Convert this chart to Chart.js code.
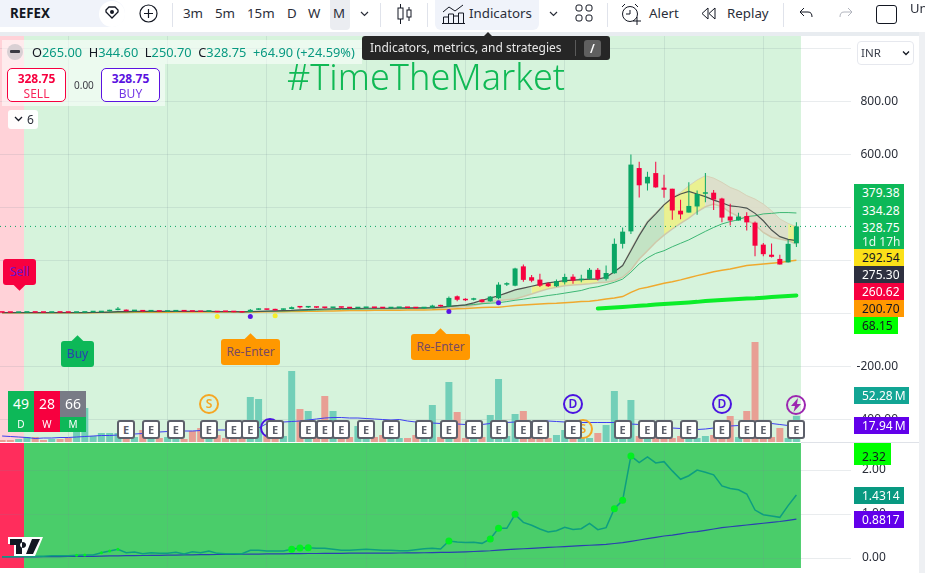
<!DOCTYPE html>
<html>
<head>
<meta charset="utf-8">
<script src="https://cdn.jsdelivr.net/npm/chart.js@4/dist/chart.umd.js"></script>
<style>
  html, body { margin: 0; padding: 0; background: #fff; }
  body { width: 925px; height: 573px; overflow: hidden; position: relative; font-family: "Noto Sans", sans-serif; color: #131722; }
  canvas { position: absolute; left: 0; }
  .abs { position: absolute; white-space: nowrap; }
  .tool { position: absolute; top: 3px; font-size: 13.3px; line-height: 20px; color: #2a2e39; white-space: nowrap; }
  .sep { position: absolute; top: 3px; width: 1px; height: 24px; background: #e0e3eb; }
  .tag { position: absolute; left: 854px; height: 17px; line-height: 17px; font-size: 12px; color: #fff; padding-left: 8px; box-sizing: border-box; white-space: nowrap; }
  .sig { position: absolute; border-radius: 3px; text-align: center; font-size: 12px; line-height: 26px; height: 26px; }
  .sig:after { content: ""; position: absolute; left: 50%; width: 9px; height: 9px; margin-left: -4.5px; background: inherit; transform: rotate(45deg); }
  .sig.up:after { top: -4px; }
  .sig.down:after { bottom: -4px; }
  .earn { position: absolute; top: 420px; width: 18px; height: 19px; margin-left: -9px; box-sizing: border-box; background: #fff; border: 2px solid #5d606b; border-radius: 3px; text-align: center; font-size: 11px; font-weight: 700; line-height: 15px; color: #5d606b; }
  .ring { position: absolute; width: 20px; height: 20px; margin-left: -10px; box-sizing: border-box; border: 2px solid; border-radius: 50%; background: transparent; text-align: center; font-size: 12px; line-height: 16px; font-weight: 600; }
  .box { position: absolute; top: 68px; width: 59px; height: 34px; box-sizing: border-box; border: 1px solid; border-radius: 5px; text-align: center; font-size: 12px; line-height: 15px; background: #fff; padding-top: 2px; }
  .cell { position: absolute; width: 26px; text-align: center; color: #fff; }
</style>
</head>
<body>
<canvas id="pricePane" style="top:36px"></canvas>
<canvas id="oscPane" style="top:443px"></canvas>
<div id="overlay"></div>

<!-- toolbar -->
<div class="abs" style="left:0;top:0;width:925px;height:32px;background:#fff"></div>
<div class="abs" style="left:0;top:32px;width:925px;height:4px;background:#e8ecf0"></div>
<div class="abs" style="left:919px;top:32px;width:6px;height:541px;background:#eef0f3"></div>
<div class="abs" style="left:0;top:0;width:125px;height:27px;background:#f0f3fa;border-radius:0 14px 14px 0"></div>
<div class="tool" style="left:10px;font-weight:700;color:#131722">REFEX</div>
<svg class="abs" style="left:98px;top:0" width="28" height="28"><circle cx="14" cy="14" r="13" fill="#fff"/><path d="M8 10l3-3h6l3 3v2l-6 6-6-6z" fill="none" stroke="#131722" stroke-width="1.3"/><circle cx="14" cy="12" r="2" fill="#131722"/></svg>
<svg class="abs" style="left:139px;top:4px" width="19" height="19"><circle cx="9.5" cy="9.5" r="8.5" fill="none" stroke="#131722" stroke-width="1.2"/><path d="M9.5 5v9M5 9.5h9" stroke="#131722" stroke-width="1.2"/></svg>
<div class="sep" style="left:172px"></div>
<div class="tool" style="left:183px">3m</div>
<div class="tool" style="left:215px">5m</div>
<div class="tool" style="left:247px">15m</div>
<div class="tool" style="left:287px">D</div>
<div class="tool" style="left:308px">W</div>
<div class="abs" style="left:330px;top:0;width:20px;height:30px;background:#ebedf1;border-radius:0 0 4px 4px"></div>
<div class="tool" style="left:333px">M</div>
<svg class="abs" style="left:360px;top:10px" width="9" height="8"><path d="M1 2l3.5 3.5L8 2" fill="none" stroke="#2a2e39" stroke-width="1.2"/></svg>
<div class="sep" style="left:380px"></div>
<svg class="abs" style="left:396px;top:3px" width="18" height="22"><path d="M4.5 1v20M13 4v14" stroke="#131722"/><rect x="2" y="5" width="5" height="11" fill="#fff" stroke="#131722"/><rect x="11" y="7" width="4" height="7" fill="#fff" stroke="#131722"/></svg>
<div class="sep" style="left:427px"></div>
<div class="abs" style="left:435px;top:0;width:104px;height:30px;background:#f0f3fa;border-radius:0 0 6px 6px"></div>
<svg class="abs" style="left:442px;top:3px" width="24" height="21"><path d="M1 9l6-5 6 4 8-6" fill="none" stroke="#131722"/><path d="M1.5 20v-6h5v6M6.5 20v-9h5v9M11.500 20v-7h5v7M16.500 20v-10h5v10M0 20.500h23" fill="none" stroke="#131722"/></svg>
<div class="tool" style="left:469px">Indicators</div>
<svg class="abs" style="left:549px;top:10px" width="9" height="8"><path d="M1 2l3.5 3.5L8 2" fill="none" stroke="#2a2e39" stroke-width="1.2"/></svg>
<svg class="abs" style="left:575px;top:4px" width="18" height="18" fill="none" stroke="#131722"><rect x="1" y="1" width="6" height="6" rx="2"/><rect x="11" y="1" width="6" height="6" rx="2"/><rect x="1" y="11" width="6" height="6" rx="2"/><rect x="11" y="11" width="6" height="6" rx="2"/></svg>
<div class="sep" style="left:607px"></div>
<svg class="abs" style="left:620px;top:3px" width="22" height="22" fill="none" stroke="#131722"><circle cx="10" cy="11" r="7.500"/><path d="M10 7v4H6M2 4l3-3M18 4l-3-3M13 18h8M17 14v8"/></svg>
<div class="tool" style="left:649px">Alert</div>
<svg class="abs" style="left:701px;top:7px" width="16" height="13" fill="none" stroke="#131722"><path d="M7 1L1 6.500 7 12zM14 1L8 6.500 14 12z"/></svg>
<div class="tool" style="left:727px">Replay</div>
<div class="sep" style="left:783px"></div>
<svg class="abs" style="left:799px;top:7px" width="15" height="12" fill="none" stroke="#131722"><path d="M5 1L1 5l4 4M1 5h8c3 0 4 2 4 5"/></svg>
<svg class="abs" style="left:838px;top:7px" width="15" height="12" fill="none" stroke="#b2b5be"><path d="M10 1l4 4-4 4M14 5H6c-3 0-4 2-4 5"/></svg>
<div class="abs" style="left:876px;top:5px;width:19px;height:17px;border:1px solid #131722;border-radius:3px"></div>
<div class="abs" style="left:910px;top:-1px;font-size:13px;line-height:18px;color:#2a2e39">Un</div>

<!-- legend -->
<div class="abs" style="left:2px;top:40px;width:360px;height:24px;background:rgba(255,255,255,.55)"></div>
<div class="abs" style="left:2px;top:64px;width:163px;height:42px;background:rgba(255,255,255,.55)"></div>
<div class="abs" style="left:7px;top:44px;width:16px;height:16px;border-radius:50%;background:#d9d0d4"></div>
<div class="abs" style="left:10px;top:50px;width:10px;height:3px;border-radius:1px;background:#3b3b44"></div>
<div class="abs" style="left:32px;top:43px;font-size:12.8px;line-height:18px;color:#089981">
  <span style="color:#131722">O</span>265.00&nbsp; <span style="color:#131722">H</span>344.60&nbsp; <span style="color:#131722">L</span>250.70&nbsp; <span style="color:#131722">C</span>328.75&nbsp; +64.90 (+24.59%)
</div>
<div class="box" style="left:7px;border-color:#f7003f;color:#f7003f"><b>328.75</b><br><span style="opacity:.85">SELL</span></div>
<div class="abs" style="left:74px;top:77px;font-size:10px;line-height:16px;color:#3b3b44">0.00</div>
<div class="box" style="left:101px;border-color:#5b13e0;color:#5b13e0"><b>328.75</b><br><span style="opacity:.85">BUY</span></div>
<div class="abs" style="left:8px;top:110px;width:30px;height:19px;background:#fff;border-radius:3px;opacity:.95"></div>
<svg class="abs" style="left:14px;top:115px" width="9" height="8"><path d="M1 2l3.500 3.500L8 2" fill="none" stroke="#131722" stroke-width="1.300"/></svg>
<div class="abs" style="left:27px;top:111px;font-size:12px;line-height:17px;color:#2a2e39">6</div>
<div class="abs" id="title" style="left:287px;top:55px;font-size:36px;line-height:44px;color:#10b955;font-family:'Noto Sans';font-weight:300">#TimeTheMarket</div>

<!-- tooltip -->
<div class="abs" style="left:362px;top:36px;width:248px;height:24px;background:#262626;border-radius:3px"></div>
<div class="abs" style="left:483px;top:32px;width:0;height:0;border-left:5px solid transparent;border-right:5px solid transparent;border-bottom:5px solid #262626"></div>
<div class="abs" style="left:370px;top:39px;font-size:12px;line-height:18px;color:#e8e8e8">Indicators, metrics, and strategies</div>
<div class="abs" style="left:575px;top:40px;width:1px;height:16px;background:#5a5a5a"></div>
<div class="abs" style="left:584px;top:40px;width:17px;height:17px;background:#5f5f5f;border-radius:3px;text-align:center;font-size:12px;line-height:17px;color:#fff;font-weight:600">/</div>

<!-- currency -->
<div class="abs" style="left:857px;top:41px;width:57px;height:24px;box-sizing:border-box;background:#fff;border:1px solid #e6e8ee;border-radius:4px"></div>
<div class="abs" style="left:861px;top:44px;font-size:11.500px;line-height:18px;color:#3a3e4a">INR</div>
<svg class="abs" style="left:902px;top:50px" width="9" height="7"><path d="M1 1.500l3 3 3-3" fill="none" stroke="#131722" stroke-width="1.300"/></svg>

<!-- price tags -->
<div class="tag" style="top:184px;width:50px;height:65px;background:#0db858"></div>
<div class="tag" style="top:184px;background:none">379.38</div>
<div class="tag" style="top:202px;background:none">334.28</div>
<div class="tag" style="top:219px;background:none">328.75</div>
<div class="tag" style="top:233px;background:none;opacity:.9">1d 17h</div>
<div class="tag" style="top:249px;width:50px;background:#fbe019;color:#131722">292.54</div>
<div class="tag" style="top:266px;width:50px;background:#2e3040">275.30</div>
<div class="tag" style="top:283px;width:50px;background:#f7003f">260.62</div>
<div class="tag" style="top:300px;width:50px;background:#ff9800;color:#131722">200.70</div>
<div class="tag" style="top:317px;width:44px;background:#00ff00;color:#131722">68.15</div>
<div class="tag" style="top:387px;width:55px;background:#12a594">52.28&#8201;M</div>
<div class="tag" style="top:417px;width:55px;background:#6200ea">17.94&#8201;M</div>
<div class="abs" style="left:801px;top:442px;width:118px;height:1px;background:#dfe2e8"></div>
<div class="tag" style="top:443px;width:37px;height:22px;line-height:28px;background:#00ff00;color:#131722">2.32</div>
<div class="tag" style="top:487px;width:50px;background:#089981">1.4314</div>
<div class="tag" style="top:511px;width:50px;background:#6200ea">0.8817</div>

<!-- signals -->
<div class="sig down" style="left:3px;top:259px;width:33px;background:#f7003f;color:#6a14d0">Sell</div>
<div class="sig up" style="left:61px;top:341px;width:33px;background:#0db858;color:#2a3fb0">Buy</div>
<div class="sig up" style="left:221px;top:339px;width:59px;background:#ff9800;color:#7a4a60">Re-Enter</div>
<div class="sig up" style="left:411px;top:334px;width:59px;background:#ff9800;color:#7a4a60">Re-Enter</div>

<!-- ratings -->
<div class="cell" style="left:8px;top:391px;height:26px;background:#0db858;font-size:14px;line-height:26px">49</div>
<div class="cell" style="left:34px;top:391px;height:26px;background:#f7003f;font-size:14px;line-height:26px">28</div>
<div class="cell" style="left:60px;top:391px;height:26px;background:#787b86;font-size:14px;line-height:26px">66</div>
<div class="cell" style="left:8px;top:417px;height:15px;background:#0db858;font-size:10px;line-height:15px">D</div>
<div class="cell" style="left:34px;top:417px;height:15px;background:#f7003f;font-size:10px;line-height:15px">W</div>
<div class="cell" style="left:60px;top:417px;height:15px;background:#0db858;font-size:10px;line-height:15px">M</div>

<!-- logo -->
<svg class="abs" style="left:8px;top:537px" width="35" height="19"><path d="M0 0h35l-8 19H6V7H0z" fill="#fff"/><path d="M2 2h12v15H8V8H2zM15 5a3 3 0 1 0 .1 0zM24 2h8l-7 15h-7z" fill="#131722"/></svg>

<script>
// monthly bars, oldest first
const bars = Array.from({ length: 97 }, (_, i) => i);

const openPrices = [
  3.5,3.2,2.8,3.3,3.6,3.3,3,3.4,3.2,3,
  3.4,4.8,5,8.5,13,14,9,9,8,8,
  7,8,9,8,7,7,6,7,6,5,
  6,14,15,14,14,17,24,23,24,22,
  21,23,22,20,21,22,21,20,21,22,
  21,20,22.5,30,26,65,53,52,53,46,
  58,109,105,178,137,128,114,103,118,139,
  126,131,165,131,152,263,310,549,491,530,
  475,471,388,381,404,452,456,434,366,351,
  368,343,260,222,206,193,265
];
const closePrices = [
  3.2,2.8,3.3,3.6,3.3,3,3.4,3.2,3,3.4,
  4.8,5,8.5,13,14,9,10,8,9,7,
  8,9,8,7,6,8,5,6,5,4,
  14,15,14,12,17,24,23,24,22,21,
  23,22,20,21,22,21,20,21,22,21,
  20,22,30,27,59,52,50,53,43,64,
  109,111,170,127,124,105,103,122,138,124,
  128,165,131,153,263,309,562,484,516,476,
  467,389,374,406,451,456,430,362,351,366,
  344,256,224,214,185,263,328.75
];
const highPrices = [
  4,5,3.5,3.800,4,3.6,3.5,3.6,3.4,3.5,
  5,5.5,9,14,25,15,11,10,10,9,
  9,10,10,9,8,9,7,8,7,6,
  17,20,16,18,18,27,25,25,25,23,
  24,24,23,22,23,23,22,22,23,23,
  22,24,33,33,64,68,58,60,54,66,
  118,118,173,185,145,150,118,128,150,148,
  146,172,172,181,283,325,600,573,535,573,
  524,471,429,495,464,530,466,437,414,380,
  382,347,266,264,222,278,344.6
];
const lowPrices = [
  3,2,2.5,3,3,3,2.8,3,3,3,
  3.3,4.5,5,8,12,8,9,7,7.5,6.5,
  6.5,7.5,7.5,6.5,5.5,6.5,4.5,5.5,4.5,3.5,
  5,13,13,11,13,16,19,21,21,19,
  20,21,19,19,20,20,19,19,20,20,
  19,19,21,26,24,46,47,49,42,44,
  54,104,103,120,118,100,100,100,110,112,
  118,128,125,125,150,245,300,438,464,475,
  437,354,356,381,373,420,391,344,332,351,
  313,216,216,211,185,193,250.7
];

// overlays, from bar 0 on
const fastLine = [
  3.5,3.4,3.3,3.3,3.4,3.4,3.3,3.3,3.3,3.3,
  3.5,3.8,4.5,5.5,7,7.5,8,8,8,8,
  8,8.5,8.5,8,8,8,7.5,7,7,6.5,
  7,8,9,10,11,12,14,15,16,17,
  18,19,19,19,20,20,20,20,21,21,
  21,21,22,24,27,30,33,40,50,58,
  67,78,89,96,103,110,116,120,124,126,
  128,130,130,137,158,181,237,294,344,376,
  410,436,451,461,451,441,428,418,406,403,
  398,378,350,315,290,280,275.3
];
const cloudTop = [
  null,null,null,null,null,null,null,null,null,null,
  null,null,null,null,null,null,null,null,null,null,
  null,null,null,null,null,null,null,null,null,null,
  null,null,null,null,null,null,null,null,null,null,
  null,null,null,null,null,null,null,null,null,null,
  null,null,22,24,27,30,33,40,50,58,
  67,78,89,96,103,110,116,120,124,126,
  128,130,130,137,158,181,244,300,350,382,
  413,438,457,482,504,520,511,495,476,464,
  445,432,413,388,357,340,328
];
const cloudBottom = [
  null,null,null,null,null,null,null,null,null,null,
  null,null,null,null,null,null,null,null,null,null,
  null,null,null,null,null,null,null,null,null,null,
  null,null,null,null,null,null,null,null,null,null,
  null,null,null,null,null,null,null,null,null,null,
  null,null,19,20,22,24,26,30,38,44,
  49,52,55,64,74,84,93,99,105,108,
  110,112,116,118,124,137,164,206,237,269,
  296,319,340,360,384,403,413,403,382,366,
  353,335,306,288,281,275,262
];
const slowGreen = [
  3.5,3.4,3.4,3.4,3.4,3.4,3.4,3.4,3.4,3.4,
  3.5,3.6,4,4.5,5.5,6,6.5,7,7,7,
  7.5,7.5,7.5,7.5,7.5,7.5,7.5,7,7,7,
  7,7.5,8,8.5,9.5,10,11,12,13,14,
  15,15.5,16,16.5,17,17.5,18,18,18.5,19,
  19.5,20,21,23,26,29,31,34,37,39,
  41,45,50,54,59,63,68,72,77,82,
  87,96,101,109,118,130,156,187,210,227,
  237,252,265,278,294,310,325,338,347,354,
  366,369,376,378,381,381,379.38
];
const slowOrange = [
  3.4,3.4,3.4,3.4,3.3,3.3,3.3,3.3,3.3,3.3,
  3.3,3.4,3.5,3.7,4,4.2,4.5,4.7,5,5,
  5.2,5.4,5.5,5.6,5.6,5.7,5.7,5.7,5.8,5.8,
  6,6.2,6.5,6.8,7,7.4,8,8.5,9,9.5,
  10,10.5,11,11.3,11.6,12,12.2,12.5,12.8,13,
  13.4,13.7,14,15,16,18,19,21,23,23.5,
  24,27,30,32,34,36,38,39,41,43,
  45,46,50,55,59,64,80,93,99,107,
  114,120,127,135,143,150,158,163,168,175,
  181,184,187,190,193,197,200.7
];
const thickGreen = [
  null,null,null,null,null,null,null,null,null,null,
  null,null,null,null,null,null,null,null,null,null,
  null,null,null,null,null,null,null,null,null,null,
  null,null,null,null,null,null,null,null,null,null,
  null,null,null,null,null,null,null,null,null,null,
  null,null,null,null,null,null,null,null,null,null,
  null,null,null,null,null,null,null,null,null,null,
  null,null,19,21,23,25,27,29,31,34,
  36,38,40,42,44,47,49,51,53,55,
  57,58,60,62,64,66,68.15
];
const yellowDots = [[26, -11], [33, -8]];
const purpleDots = [[30, -11], [54, 8], [60, 41]];
const lastClose = 328.75;

// volume in millions
const volumes = [
  4,4,6,10,10,4,6,6,8,40,
  68,12,18,18,18,10,10,24,10,8,
  10,10,6,22,28,16,14,8,10,10,
  90,86,12,8,12,142,66,62,8,92,
  62,10,10,32,12,10,14,10,8,8,
  14,10,74,10,120,60,8,14,10,54,
  126,12,56,62,10,10,8,14,24,8,
  8,8,18,34,102,8,84,12,10,8,
  8,8,12,10,8,12,14,8,52,10,
  62,200,10,10,28,8,52.28
];
const volumeMa = [
  12,11,10,9,7,8,8,9,9,10,
  11,12,13,13,14,15,16,17,18,20,
  21,21,22,22,23,23,24,24,25,26,
  27,28,37,39,40,41,42,44,46,48,
  49,49,48,48,47,46,45,44,45,42,
  40,39,38,37,36,36,35,35,35,37,
  38,39,40,41,41,42,42,41,40,40,
  39,39,39,39,39,38,36,35,33,31,
  29,28,27,25,25,26,28,30,32,33,
  35,36,37,37,35,33,32
];

// lower pane
const oscLine = [
  0.03,0.03,0.03,0.04,0.04,0.04,0.05,0.05,0.05,0.06,
  0.068,0.068,0.12,0.16,0.2,0.12,0.136,0.098,0.12,0.106,
  0.106,0.129,0.09,0.144,0.12,0.16,0.106,0.098,0.098,0.098,
  0.174,0.174,0.16,0.16,0.16,0.197,0.227,0.235,0.22,0.22,
  0.2,0.174,0.174,0.19,0.197,0.19,0.174,0.174,0.166,0.166,
  0.19,0.21,0.22,0.205,0.386,0.364,0.35,0.356,0.333,0.432,
  0.674,0.674,0.992,0.81,0.743,0.66,0.59,0.62,0.697,0.65,
  0.667,0.788,0.644,0.69,1.12,1.31,2.32,2.17,2.3,2.16,
  2.19,1.98,1.79,1.87,2,1.95,1.89,1.64,1.58,1.55,
  1.455,1.09,0.985,0.955,0.925,1.19,1.4314
];
const oscAverage = [
  0.023,0.024,0.025,0.026,0.028,0.03,0.031,0.032,0.034,0.035,
  0.037,0.039,0.045,0.047,0.05,0.052,0.055,0.057,0.06,0.062,
  0.065,0.067,0.07,0.072,0.075,0.077,0.08,0.082,0.084,0.086,
  0.088,0.09,0.092,0.094,0.096,0.098,0.1,0.102,0.103,0.105,
  0.106,0.107,0.109,0.11,0.111,0.112,0.112,0.113,0.114,0.115,
  0.118,0.12,0.123,0.127,0.13,0.135,0.14,0.148,0.155,0.165,
  0.18,0.19,0.2,0.21,0.22,0.23,0.24,0.25,0.26,0.27,
  0.28,0.29,0.3,0.31,0.33,0.35,0.38,0.41,0.44,0.47,
  0.5,0.52,0.55,0.58,0.6,0.63,0.66,0.69,0.71,0.73,
  0.75,0.77,0.79,0.81,0.83,0.855,0.8817
];
const oscBigDots = [54, 59, 60, 62, 74, 75, 76, 35, 36, 37];
const oscSmallDots = [9, 10, 12, 13, 14];

const priceTicks = [1000, 800, 600, 400, 200, 0, -200, -400];
const oscTicks = [2, 1, 0];
const gridBars = [8, 20, 32, 44, 56, 68, 80, 92];

// earnings and other flags along the volume pane
const earningsBars = [15, 18, 21, 25, 28, 30, 33, 37, 39, 41, 44, 47, 51, 54, 57, 60, 63, 65, 69, 75, 78, 80, 83, 87, 90, 92, 96];
const flagMarks = [
  { bar: 25, top: 394, text: 'S', color: '#f5a623' },
  { bar: 32.4, top: 418, text: '', color: '#4a14e0' },
  { bar: 70.2, top: 419, text: 'S', color: '#f5a623' },
  { bar: 69, top: 394, text: 'D', color: '#4a14e0' },
  { bar: 87, top: 394, text: 'D', color: '#4a14e0' },
  { bar: 96, top: 395, text: '', color: '#9c27b0', bolt: true }
];

const upColor = '#0aa564';
const downColor = '#f7003f';
const candleColors = bars.map(i => closePrices[i] >= openPrices[i] ? upColor : downColor);
const volumeColors = bars.map(i => closePrices[i] >= openPrices[i] ? '#72cfb8' : '#e89f94');

const toPoints = arr => arr.map((y, i) => ({ x: i, y }));
const xMin = -0.254;
const xMax = 102.6;

// paints the strategy background per bar range
const paneBackground = (pink, green) => ({
  id: 'paneBackground',
  beforeDraw(chart) {
    const { ctx, chartArea: a, scales: { x } } = chart;
    const split = x.getPixelForValue(2.65);
    const end = x.getPixelForValue(96.55);
    ctx.save();
    ctx.fillStyle = pink;
    ctx.fillRect(0, a.top, split, a.bottom - a.top);
    ctx.fillStyle = green;
    ctx.fillRect(split, a.top, end - split, a.bottom - a.top);
    ctx.restore();
  }
});

const xAxis = {
  type: 'linear',
  min: xMin,
  max: xMax,
  offset: false,
  afterBuildTicks: s => { s.ticks = gridBars.map(value => ({ value })); },
  afterFit: s => { s.height = 0; s.paddingLeft = 0; s.paddingRight = 0; },
  ticks: { display: false },
  grid: { color: 'rgba(120,135,150,0.16)', drawTicks: false, offset: false },
  border: { display: false }
};

// price labels end at a common edge, the lower pane's start at one
const rightAxis = (ticks, min, max, width, align, padding) => ({
  position: 'right',
  min,
  max,
  afterBuildTicks: s => { s.ticks = ticks.map(value => ({ value })); },
  afterFit: s => { s.width = width; s.paddingTop = 0; s.paddingBottom = 0; },
  ticks: {
    crossAlign: align,
    padding,
    color: '#2a2e39',
    font: { family: 'Noto Sans', size: 12 },
    // the 1000 line keeps its grid line, its label sits under the currency box
    callback: v => v >= 1000 ? '' : v.toFixed(2)
  },
  grid: { color: 'rgba(120,135,150,0.16)', drawTicks: false },
  border: { display: false }
});

const line = (data, color, width, order, extra) => Object.assign({
  type: 'line',
  data: toPoints(data),
  borderColor: color,
  borderWidth: width,
  pointRadius: 0,
  tension: 0,
  fill: false,
  order
}, extra);

const cloudColor = i => {
  if (i >= 95 || (i >= 80 && i < 85) || (i >= 64 && i < 72)) return 'rgba(240,240,120,0.75)';
  if (i >= 85) return 'rgba(222,218,200,0.85)';
  return 'rgba(190,222,190,0.8)';
};

const sizeCanvas = (id, h) => {
  const c = document.getElementById(id);
  c.width = 925;
  c.height = h;
  c.style.width = '925px';
  c.style.height = h + 'px';
  return c;
};

Chart.defaults.animation = false;
Chart.defaults.devicePixelRatio = 1;

const priceChart = new Chart(sizeCanvas('pricePane', 406), {
  type: 'bar',
  plugins: [paneBackground('#ffd2d8', '#d6f3dc')],
  data: {
    datasets: [
      {
        data: bars.map(i => ({ x: i, y: [0, volumes[i]] })),
        yAxisID: 'vol',
        backgroundColor: volumeColors,
        barThickness: 7,
        grouped: false,
        inflateAmount: 0,
        order: 30
      },
      line(volumeMa, '#3f3ff0', 1, 29, { yAxisID: 'vol' }),
      line(cloudTop, '#d6d2b8', 1, 20, {
        yAxisID: 'y',
        fill: '+1',
        backgroundColor: 'rgba(190,222,190,0.8)',
        segment: { backgroundColor: ctx => cloudColor(ctx.p0DataIndex) }
      }),
      line(cloudBottom, '#cfc8aa', 1.5, 19, { yAxisID: 'y' }),
      line(slowOrange, '#efa92e', 1.5, 14, { yAxisID: 'y' }),
      line(slowGreen, '#3db774', 1, 13, { yAxisID: 'y' }),
      line(fastLine, '#4b5350', 1.2, 12, { yAxisID: 'y' }),
      line(thickGreen, '#0ced2a', 4, 11, { yAxisID: 'y', borderCapStyle: 'round' }),
      {
        type: 'line',
        data: [{ x: xMin, y: lastClose }, { x: xMax, y: lastClose }],
        yAxisID: 'y',
        borderColor: '#0aa564',
        borderWidth: 1,
        borderDash: [1, 4],
        pointRadius: 0,
        order: 10
      },
      {
        data: bars.map(i => ({ x: i, y: [lowPrices[i], highPrices[i]] })),
        yAxisID: 'y',
        backgroundColor: candleColors,
        barThickness: 1,
        grouped: false,
        inflateAmount: 0,
        order: 5
      },
      {
        data: bars.map(i => ({ x: i, y: [openPrices[i], closePrices[i]] })),
        yAxisID: 'y',
        backgroundColor: candleColors,
        barThickness: 5,
        minBarLength: 1.5,
        grouped: false,
        inflateAmount: 0,
        order: 4
      },
      {
        type: 'scatter',
        data: yellowDots.map(([x, y]) => ({ x, y })),
        yAxisID: 'y',
        backgroundColor: '#f6ee2a',
        pointRadius: 2.5,
        borderWidth: 0,
        order: 2
      },
      {
        type: 'scatter',
        data: purpleDots.map(([x, y]) => ({ x, y })),
        yAxisID: 'y',
        backgroundColor: '#5a16e6',
        pointRadius: 2.5,
        borderWidth: 0,
        order: 1
      }
    ]
  },
  options: {
    responsive: false,
    layout: { padding: { right: 27 }, autoPadding: false },
    plugins: { legend: { display: false }, tooltip: { enabled: false } },
    scales: {
      x: xAxis,
      y: rightAxis(priceTicks, -484.8, 1047.3, 47, 'far', 0),
      vol: { display: false, min: 0, max: 812 }
    }
  }
});

const oscChart = new Chart(sizeCanvas('oscPane', 125), {
  type: 'line',
  plugins: [paneBackground('#ff2d5c', '#4acd6a')],
  data: {
    datasets: [
      line(oscAverage, '#2a3fb0', 1.2, 3),
      line(oscLine, '#0d9e80', 1.5, 2),
      {
        type: 'scatter',
        data: oscBigDots.map(i => ({ x: i, y: oscLine[i] })),
        backgroundColor: '#00f020',
        pointRadius: 3.5,
        borderWidth: 0,
        order: 1
      },
      {
        type: 'scatter',
        data: oscSmallDots.map(i => ({ x: i, y: oscLine[i] })),
        backgroundColor: '#00f020',
        pointRadius: 1.5,
        borderWidth: 0,
        order: 1
      }
    ]
  },
  options: {
    responsive: false,
    layout: { padding: 0, autoPadding: false },
    plugins: { legend: { display: false }, tooltip: { enabled: false } },
    scales: {
      x: xAxis,
      y: rightAxis(oscTicks, -0.227, 2.614, 74, 'near', 11)
    }
  }
});

// flags sit on the price chart's x scale
const overlay = document.getElementById('overlay');
const barPixel = b => priceChart.scales.x.getPixelForValue(b);
flagMarks.forEach(f => {
  const el = document.createElement('div');
  el.className = 'ring';
  el.style.left = barPixel(f.bar) + 'px';
  el.style.top = f.top + 'px';
  el.style.borderColor = f.color;
  el.style.color = f.color;
  el.textContent = f.text;
  if (f.bolt) el.innerHTML = '<svg width="16" height="16" style="display:block"><path d="M10 1L3 9h4l-1.500 6L13 7H9z" fill="' + f.color + '"/></svg>';
  overlay.appendChild(el);
});
earningsBars.forEach(b => {
  const el = document.createElement('div');
  el.className = 'earn';
  el.style.left = barPixel(b) + 'px';
  el.textContent = 'E';
  overlay.appendChild(el);
});
</script>
</body>
</html>
